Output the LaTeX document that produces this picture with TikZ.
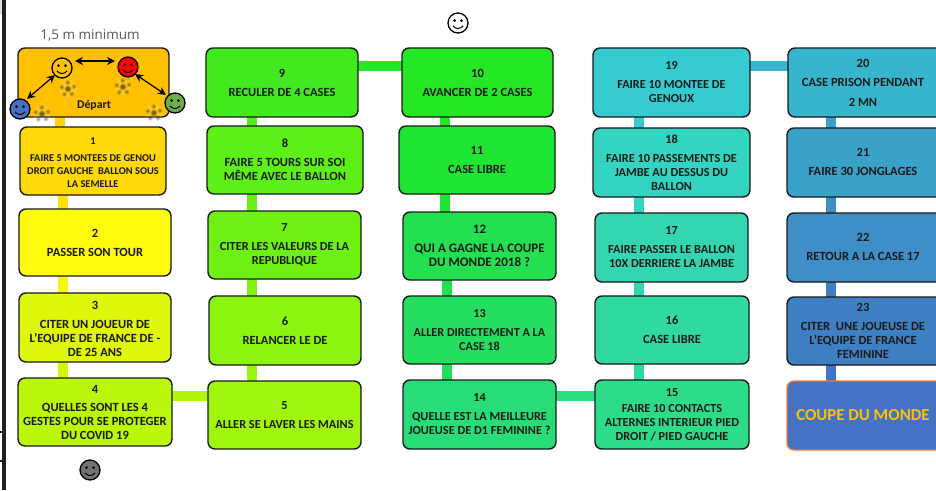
\documentclass[tikz,border=0pt]{standalone}
\usepackage{fontspec}
\setmainfont{Carlito}
\newfontfamily\labelfont{Open Sans}
\usetikzlibrary{calc,arrows.meta}
\pgfdeclarelayer{behind}
\pgfsetlayers{behind,main}
\definecolor{ink}{HTML}{1A1A1A}
\definecolor{cD}{HTML}{FFC000}
\definecolor{c1}{HTML}{FFD80A}\definecolor{c2}{HTML}{FFFB0A}\definecolor{c3}{HTML}{DFF70A}
\definecolor{c4}{HTML}{BBF70A}\definecolor{c5}{HTML}{A0F50C}\definecolor{c6}{HTML}{8CF50F}
\definecolor{c7}{HTML}{6EF014}\definecolor{c8}{HTML}{5CEF18}\definecolor{c9}{HTML}{40EA1E}
\definecolor{c10}{HTML}{25E825}\definecolor{c11}{HTML}{1FE533}\definecolor{c12}{HTML}{22E04F}
\definecolor{c13}{HTML}{25DE60}\definecolor{c14}{HTML}{28DD78}\definecolor{c15}{HTML}{2DDC88}
\definecolor{c16}{HTML}{2FD9A0}\definecolor{c17}{HTML}{33D6B0}\definecolor{c18}{HTML}{33D5C0}
\definecolor{c19}{HTML}{36CBD0}\definecolor{c20}{HTML}{36B5CC}\definecolor{c21}{HTML}{3AA2C8}
\definecolor{c22}{HTML}{3E8FC8}\definecolor{c23}{HTML}{3F80C4}\definecolor{cC}{HTML}{4472C4}
\definecolor{fgreen}{HTML}{70AD47}\definecolor{forange}{HTML}{ED7D31}
\tikzset{
  caseline/.style={draw=ink,line width=1.4pt,rounded corners=7pt,inner sep=0pt,outer sep=0pt,align=center,text=ink},
  conn/.style={line width=10pt,draw=#1},
  face/.style={circle,draw=black,line width=1.3pt,minimum size=20pt,inner sep=0pt,outer sep=0pt,fill=#1},
  dart/.style={black,line width=1.2pt,{Stealth[length=8pt,width=8pt]}-{Stealth[length=8pt,width=8pt]}}
}
\newcommand{\casebox}[7][]{%
  \node[caseline,fill=#7,minimum width={(#4)-(#2)},minimum height={(#5)-(#3)},#1] (#6) at ({((#2)+(#4))/2},{((#3)+(#5))/2}) {};}
\newcommand{\casetext}[3]{\node[inner sep=0pt,align=center,text=ink,font=\fontsize{#3}{14}\selectfont\bfseries] (t#1) at (#1) {#2};}
\newcommand{\smiley}[4]{%
  \node[face=#4] (#1) at (#2,#3) {};
  \begin{scope}[shift={(#2,#3)}]
    \fill[black] (-3.4,-2.4) circle (1.5pt) (3.4,-2.4) circle (1.5pt);
    \draw[black,line width=1pt] (-5.2,2.8) .. controls (-2.5,6.4) and (2.5,6.4) .. (5.2,2.8);
  \end{scope}}
\newcommand{\ballblur}[3]{%
  \begin{scope}[shift={(#1,#2)}]
    \fill[white,opacity=.12] (0,0) circle (#3pt);
    \foreach \r in {3.4,2.6,1.8}{\fill[black,opacity=.22] (0,0) circle (\r pt);}
    \foreach \a in {20,92,164,236,308}{
      \foreach \r in {2.6,1.9,1.2}{\fill[black,opacity=.14] (\a:6.4pt) circle (\r pt);}}
  \end{scope}}
\begin{document}
\begin{tikzpicture}[x=1pt,y=-1pt]
\useasboundingbox (0,0) rectangle (936,490);
\clip (0,0) rectangle (936,490);
% coordinates of the connector axes
\coordinate (xa) at (60,0);\coordinate (xb) at (63,0);\coordinate (xc) at (252,0);
\coordinate (xd) at (445,0);\coordinate (xe) at (447,0);\coordinate (xf) at (639,0);\coordinate (xg) at (831,0);
\coordinate (ya) at (0,396);\coordinate (yb) at (0,66);
% cases
\casebox{18}{48}{169}{117}{dep}{cD}
\casebox{20}{127}{166}{195}{n1}{c1}
\casebox{19}{209}{171}{276}{n2}{c2}
\casebox{19}{293}{171}{362}{n3}{c3}
\casebox{18}{378}{172}{446}{n4}{c4}
\casebox{208}{381}{361}{449}{n5}{c5}
\casebox{209}{296}{361}{365}{n6}{c6}
\casebox{208}{211}{361}{279}{n7}{c7}
\casebox{207}{126}{363}{194}{n8}{c8}
\casebox{206}{48}{358}{117}{n9}{c9}
\casebox{402}{48}{553}{117}{n10}{c10}
\casebox{399}{126}{555}{194}{n11}{c11}
\casebox{403}{212}{556}{280}{n12}{c12}
\casebox{403}{296}{556}{364}{n13}{c13}
\casebox{403}{380}{556}{449}{n14}{c14}
\casebox{595}{380}{749}{449}{n15}{c15}
\casebox{595}{296}{749}{364}{n16}{c16}
\casebox{595}{213}{748}{282}{n17}{c17}
\casebox{593}{128}{750}{197}{n18}{c18}
\casebox{593}{48}{750}{117}{n19}{c19}
\casebox{788}{48}{945}{117}{n20}{c20}
\casebox{787}{128}{945}{197}{n21}{c21}
\casebox{787}{213}{945}{282}{n22}{c22}
\casebox{787}{297}{945}{365}{n23}{c23}
\casebox[draw=forange]{787}{381}{945}{450}{fin}{cC}
% connectors
\begin{pgfonlayer}{behind}
\fill[white] (0,0) rectangle (936,490);
\fill[black!88] (2,0) rectangle (6,490);
\fill[black!12] (0,0) rectangle (2,15);
\fill[black!90] (0,431) rectangle (2,433);
\fill[black!90] (0,460) rectangle (2,462);
\draw[conn=c1!85!cD] (dep.south -| xa) -- (n1.north -| xa);
\draw[conn=c1!70!c2] (n1.south -| xb) -- (n2.north -| xb);
\draw[conn=c2!60!c3] (n2.south -| xb) -- (n3.north -| xb);
\draw[conn=c3!60!c4] (n3.south -| xb) -- (n4.north -| xb);
\draw[conn=c4!70!c5] (n4.east |- ya) -- (n5.west |- ya);
\draw[conn=c5!60!c6] (n5.north -| xc) -- (n6.south -| xc);
\draw[conn=c6!60!c7] (n6.north -| xc) -- (n7.south -| xc);
\draw[conn=c7!60!c8] (n7.north -| xc) -- (n8.south -| xc);
\draw[conn=c8!60!c9] (n8.north -| xc) -- (n9.south -| xc);
\draw[conn=c10] (n9.east |- yb) -- (n10.west |- yb);
\draw[conn=c10] (n10.south -| xd) -- (n11.north -| xd);
\draw[conn=c11] (n11.south -| xd) -- (n12.north -| xd);
\draw[conn=c12] (n12.south -| xe) -- (n13.north -| xe);
\draw[conn=c13] (n13.south -| xe) -- (n14.north -| xe);
\draw[conn=c14!50!c15] (n14.east |- ya) -- (n15.west |- ya);
\draw[conn=c16] (n15.north -| xf) -- (n16.south -| xf);
\draw[conn=c17] (n16.north -| xf) -- (n17.south -| xf);
\draw[conn=c18] (n17.north -| xf) -- (n18.south -| xf);
\draw[conn=c19] (n18.north -| xf) -- (n19.south -| xf);
\draw[conn=c20] (n19.east |- yb) -- (n20.west |- yb);
\draw[conn=c21] (n20.south -| xg) -- (n21.north -| xg);
\draw[conn=c22] (n21.south -| xg) -- (n22.north -| xg);
\draw[conn=c23] (n22.south -| xg) -- (n23.north -| xg);
\draw[conn=cC] (n23.south -| xg) -- (fin.north -| xg);
\end{pgfonlayer}
% texts
\node[inner sep=0pt,align=center,text=ink,font=\fontsize{10.4}{13}\selectfont\bfseries] (tn1) at (93,162.5) {1\\[4pt]FAIRE 5 MONTEES DE GENOU\\DROIT GAUCHE\ \ BALLON SOUS\\LA SEMELLE};
\casetext{n2}{2\\[5pt]PASSER SON TOUR}{12.5}
\node[inner sep=0pt,align=center,text=ink,font=\fontsize{12.5}{14}\selectfont\bfseries] (tn3) at (95,328.5) {3\\[5pt]CITER UN JOUEUR DE\\L'EQUIPE DE FRANCE DE -\\DE 25 ANS};
\casetext{n4}{4\\[4pt]QUELLES SONT LES 4\\GESTES POUR SE PROTEGER\\DU COVID 19}{12.5}
\casetext{n5}{5\\[5pt]ALLER SE LAVER LES MAINS}{12.3}
\casetext{n6}{6\\[5pt]RELANCER LE DE}{12.5}
\casetext{n7}{7\\[5pt]CITER LES VALEURS DE LA\\REPUBLIQUE}{12.3}
\casetext{n8}{8\\[5pt]FAIRE 5 TOURS SUR SOI\\MÊME AVEC LE BALLON}{12.5}
\casetext{n9}{9\\[5pt]RECULER DE 4 CASES}{12.5}
\casetext{n10}{10\\[5pt]AVANCER DE 2 CASES}{12.5}
\casetext{n11}{11\\[5pt]CASE LIBRE}{12.5}
\casetext{n12}{12\\[5pt]QUI A GAGNE LA COUPE\\DU MONDE 2018 ?}{13}
\casetext{n13}{13\\[5pt]ALLER DIRECTEMENT A LA\\CASE 18}{12.2}
\casetext{n14}{14\\[5pt]QUELLE EST LA MEILLEURE\\JOUEUSE DE D1 FEMININE ?}{12.3}
\casetext{n15}{15\\[2pt]FAIRE 10 CONTACTS\\ALTERNES INTERIEUR PIED\\DROIT / PIED GAUCHE}{12.3}
\casetext{n16}{16\\[5pt]CASE LIBRE}{12.5}
\casetext{n17}{17\\[5pt]FAIRE PASSER LE BALLON\\10X DERRIERE LA JAMBE}{12.3}
\casetext{n18}{18\\[5pt]FAIRE 10 PASSEMENTS DE\\JAMBE AU DESSUS DU\\BALLON}{12.3}
\casetext{n19}{19\\[5pt]FAIRE 10 MONTEE DE\\GENOUX}{12.3}
\node[inner sep=0pt,align=center,text=ink,font=\fontsize{12.5}{14}\selectfont\bfseries] (tn20) at (863,83) {20\\[5pt]CASE PRISON PENDANT\\[6pt]2 MN};
\node[inner sep=0pt,align=center,text=ink,font=\fontsize{12.5}{14}\selectfont\bfseries] (tn21) at (863,162) {21\\[5pt]FAIRE 30 JONGLAGES};
\node[inner sep=0pt,align=center,text=ink,font=\fontsize{12.5}{14}\selectfont\bfseries] (tn22) at (863,247) {22\\[5pt]RETOUR A LA CASE 17};
\node[inner sep=0pt,align=center,text=ink,font=\fontsize{12.5}{14}\selectfont\bfseries] (tn23) at (863,331) {23\\[5pt]CITER\ \ UNE JOUEUSE DE\\L'EQUIPE DE FRANCE\\FEMININE};
\node[inner sep=0pt,text=cD,font=\fontsize{16.8}{18}\selectfont\bfseries] (tfin) at (863,415) {COUPE DU MONDE};
% start box
\node[inner sep=0pt,text=black!65,font=\fontsize{13.5}{15}\selectfont\labelfont] (titre) at (90,35) {1,5 m minimum};
\node[inner sep=0pt,text=ink,font=\fontsize{11.8}{12}\selectfont\bfseries] (depart) at (94,105) {Départ};
\ballblur{68}{89}{9}
\ballblur{123}{87}{8}
\ballblur{42}{114}{9}
\ballblur{154}{113}{9}
\smiley{fy}{62}{68}{cD}
\smiley{fr}{128}{67}{red}
\smiley{fb}{20}{109}{cC}
\smiley{fg}{175}{103}{fgreen}
\smiley{ft}{458}{23}{white}
\smiley{fk}{90}{470}{black!55}
\draw[dart] ($(fy.east)+(3,-7)$) -- ($(fr.west)+(-3,-6)$);
\draw[dart] ($(fb.north east)+(0,-3)$) -- (fy.south west);
\draw[dart] (fr.south east) -- ($(fg.north west)+(-2,-1)$);
\end{tikzpicture}
\end{document}
